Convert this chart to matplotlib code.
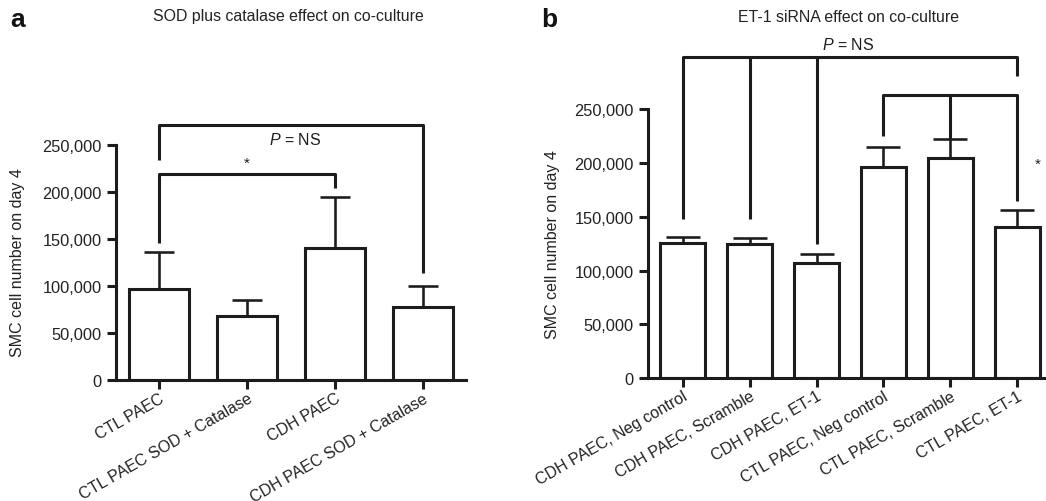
import matplotlib
matplotlib.use("Agg")
import matplotlib.pyplot as plt
import numpy as np

plt.rcParams['font.family'] = ['Liberation Sans', 'DejaVu Sans']
plt.rcParams['mathtext.fontset'] = 'custom'
plt.rcParams['mathtext.it'] = 'Liberation Sans:italic'
plt.rcParams['mathtext.rm'] = 'Liberation Sans'

# panel a data
a_labels = ["CTL PAEC", "CTL PAEC SOD + Catalase", "CDH PAEC", "CDH PAEC SOD + Catalase"]
a_means = [97000, 68000, 140000, 77500]
a_err = [39000, 17500, 55000, 23000]

# panel b data
b_labels = ["CDH PAEC, Neg control", "CDH PAEC, Scramble", "CDH PAEC, ET-1",
            "CTL PAEC, Neg control", "CTL PAEC, Scramble", "CTL PAEC, ET-1"]
b_means = [125500, 125000, 107000, 196000, 204500, 140500]
b_err = [6000, 5000, 8000, 19000, 18000, 16000]

ink = '#1c1c1c'
lw = 2.2

fig = plt.figure(figsize=(10.46, 5.02), dpi=100)

def style_axes(ax, n, ylim_top):
    for s in ['top', 'right']:
        ax.spines[s].set_visible(False)
    for s in ['left', 'bottom']:
        ax.spines[s].set_linewidth(lw)
        ax.spines[s].set_color(ink)
    ax.spines['left'].set_bounds(0, 250000)
    ax.set_ylim(0, ylim_top)
    ax.set_yticks(np.arange(0, 250001, 50000))
    ax.set_yticklabels(['0'] + [format(v, ',') for v in range(50000, 250001, 50000)])
    ax.tick_params(axis='both', direction='out', length=6.5, width=lw, color=ink,
                   labelcolor='#222222')
    ax.tick_params(axis='y', labelsize=11.8, pad=4)
    ax.tick_params(axis='x', labelsize=11.5, pad=1)
    ax.set_xticks(np.arange(n))
    ax.patch.set_alpha(0)

def draw_bars(ax, means, err, width, capsize):
    x = np.arange(len(means))
    ax.bar(x, means, width, color='white', edgecolor=ink, linewidth=lw, zorder=2)
    ax.errorbar(x, means, yerr=[np.zeros(len(err)), err], fmt='none', ecolor=ink,
                elinewidth=lw * 0.85, capsize=capsize, capthick=lw * 0.85, zorder=1)

def bracket(ax, x0, x1, y, y0, y1, mids=()):
    kw = dict(color=ink, lw=lw, solid_capstyle='butt', clip_on=False, zorder=3)
    ax.plot([x0, x0, x1, x1], [y0, y, y, y1], **kw)
    for xm, ym in mids:
        ax.plot([xm, xm], [y, ym], **kw)

# ---------- panel a ----------
axa = fig.add_axes([0.1109, 0.241, 0.3346, 0.562])
draw_bars(axa, a_means, a_err, 0.68, 11)
style_axes(axa, len(a_means), 300000)
axa.set_xlim(-0.49, 3.49)
axa.set_xticklabels(a_labels, rotation=30, ha='right', va='top', rotation_mode='anchor')

bracket(axa, 0, 3, 271000, 234000, 114000)
bracket(axa, 0, 2, 219000, 145500, 204000)
axa.text(1, 224000, '*', ha='center', va='bottom', fontsize=11, color=ink)
axa.text(1.55, 256000, r'$P$ = NS', ha='center', va='center', fontsize=11.5, color=ink)

fig.text(288 / 1046, 1 - 17 / 502, 'SOD plus catalase effect on co-culture',
         ha='center', va='center', fontsize=11.4, color='#222222')
fig.text(10 / 1046, 1 - 20 / 502, 'a', ha='left', va='center', fontsize=19,
         fontweight='bold', color='#111111')
fig.text(18 / 1046, 1 - 263 / 502, 'SMC cell number on day 4', rotation=90,
         ha='center', va='center', fontsize=11.5, color='#222222')

# ---------- panel b ----------
axb = fig.add_axes([0.6195, 0.245, 0.3805, 0.685])
draw_bars(axb, b_means, b_err, 0.67, 12)
style_axes(axb, len(b_means), 320000)
axb.set_xlim(-0.52, 5.43)
axb.set_xticklabels(b_labels, rotation=30, ha='right', va='top', rotation_mode='anchor')

bracket(axb, 0, 5, 299000, 148000, 281500, mids=[(1, 148000), (2, 124500)])
bracket(axb, 3, 5, 263000, 225000, 164500, mids=[(4, 222000)])
axb.text(5.3, 193000, '*', ha='center', va='bottom', fontsize=11, color=ink, clip_on=False)
axb.text(2.47, 311000, r'$P$ = NS', ha='center', va='center', fontsize=11.5, color=ink)

fig.text(848 / 1046, 1 - 17 / 502, 'ET-1 siRNA effect on co-culture',
         ha='center', va='center', fontsize=11.4, color='#222222')
fig.text(541 / 1046, 1 - 20 / 502, 'b', ha='left', va='center', fontsize=19,
         fontweight='bold', color='#111111')
fig.text(552 / 1046, 1 - 245 / 502, 'SMC cell number on day 4', rotation=90,
         ha='center', va='center', fontsize=11.5, color='#222222')

fig.savefig('out.png', dpi=100, facecolor='white')
